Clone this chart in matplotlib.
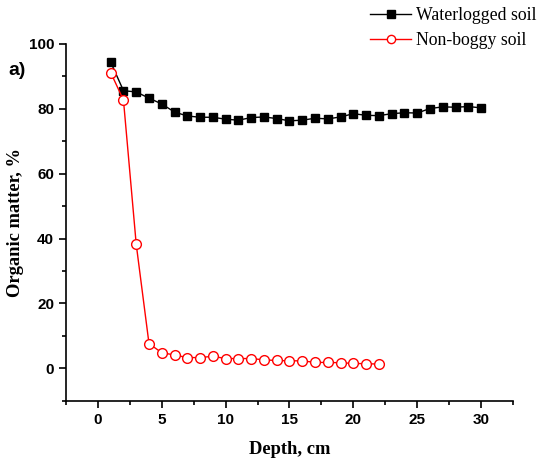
import matplotlib
matplotlib.use("Agg")
import matplotlib.pyplot as plt
from matplotlib.ticker import MultipleLocator

# depth, cm
depth_wet = list(range(1, 31))
depth_dry = list(range(1, 23))

# organic matter, %
waterlogged = [94.4, 85.6, 85.2, 83.3, 81.5, 79.0, 77.8, 77.4, 77.4, 76.8,
               76.5, 77.3, 77.5, 77.0, 76.3, 76.5, 77.1, 76.9, 77.5, 78.5,
               78.0, 77.9, 78.5, 78.8, 78.7, 80.1, 80.6, 80.5, 80.7, 80.3]
non_boggy = [91.2, 82.7, 38.2, 7.6, 4.8, 4.1, 3.3, 3.3, 3.7, 3.0,
             3.0, 3.0, 2.6, 2.4, 2.3, 2.3, 1.8, 1.8, 1.7, 1.5,
             1.4, 1.3]

fig = plt.figure(figsize=(5.44, 4.58), dpi=100)
ax = fig.add_axes([0.1213, 0.1251, 0.8217, 0.7789])

ax.plot(depth_wet, waterlogged, color='black', lw=1.0, marker='s',
        ms=6, mfc='black', mec='black', label='Waterlogged soil')
ax.plot(depth_dry, non_boggy, color='red', lw=1.0, marker='o',
        ms=7, mfc='white', mec='red', mew=1.0, label='Non-boggy soil')

ax.set_xlim(-2.5, 32.5)
ax.set_ylim(-10, 100)
ax.xaxis.set_major_locator(MultipleLocator(5))
ax.xaxis.set_minor_locator(MultipleLocator(2.5))
ax.yaxis.set_major_locator(MultipleLocator(20))
ax.yaxis.set_minor_locator(MultipleLocator(10))

for s in ['top', 'right']:
    ax.spines[s].set_visible(False)
for s in ['left', 'bottom']:
    ax.spines[s].set_linewidth(1.2)

ax.tick_params(which='major', direction='out', length=5, width=1.2)
ax.tick_params(which='minor', direction='out', length=3, width=1.2)
for lab in ax.get_xticklabels() + ax.get_yticklabels():
    lab.set_family('Liberation Sans')
    lab.set_fontweight('bold')
    lab.set_fontsize(11)

ax.set_xlabel('Depth, cm', family='Liberation Serif', fontweight='bold',
              fontsize=13.3)
ax.set_ylabel('Organic matter, %', family='Liberation Serif', fontweight='bold',
              fontsize=13.3)
ax.xaxis.set_label_coords(0.5, -0.114)
ax.yaxis.set_label_coords(-0.094, 0.5)

fig.text(0.016, 0.845, 'a)', family='Liberation Sans', fontweight='bold',
         fontsize=14, va='center', ha='left')

fig.legend(loc='upper right', bbox_to_anchor=(1.0, 1.0), frameon=False,
           prop={'family': 'Liberation Serif', 'size': 12.8},
           handlelength=2.3, handletextpad=0.3, labelspacing=0.45,
           borderaxespad=0.1, borderpad=0.3, markerscale=0.85)

fig.savefig('out.png', dpi=100)
